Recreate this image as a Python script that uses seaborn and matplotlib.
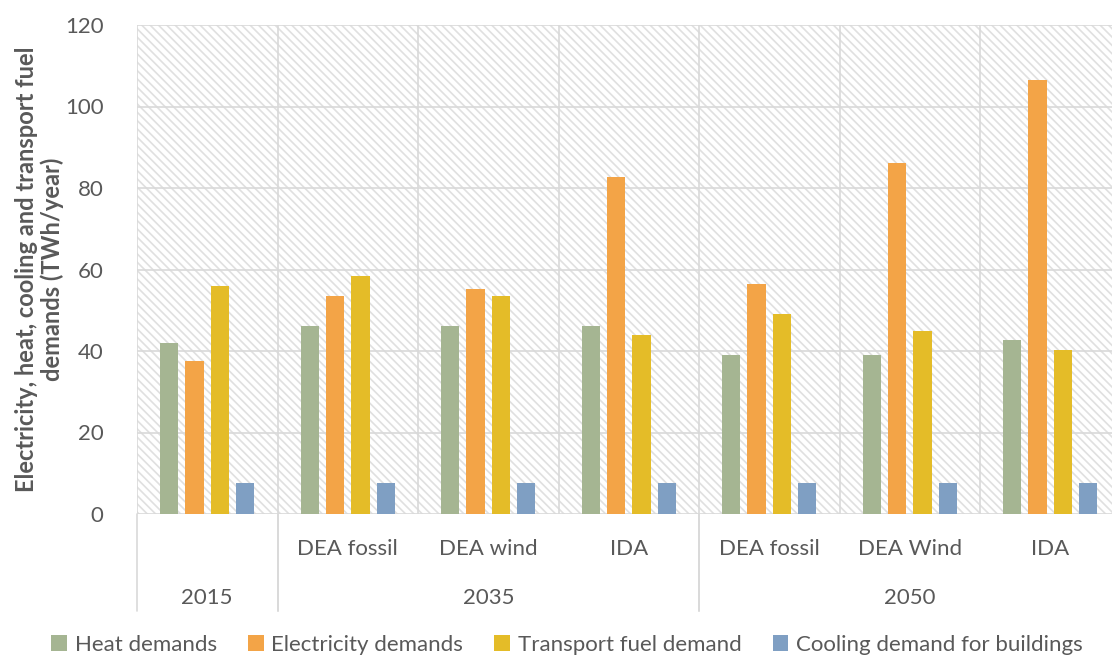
import matplotlib
matplotlib.use("Agg")
import matplotlib.pyplot as plt
import matplotlib.transforms as mtransforms
from matplotlib.patches import Rectangle
import seaborn as sns
import pandas as pd

# ---- data ----
years = ["2015", "2035", "2035", "2035", "2050", "2050", "2050"]
scenarios = ["", "DEA fossil", "DEA wind", "IDA", "DEA fossil", "DEA Wind", "IDA"]
heat = [41.9, 46.1, 46.1, 46.1, 38.9, 38.9, 42.7]
electricity = [37.6, 53.4, 55.1, 82.7, 56.4, 86.2, 106.6]
transport = [55.9, 58.5, 53.4, 44.0, 49.0, 44.8, 40.2]
cooling = [7.7, 7.7, 7.7, 7.7, 7.7, 7.7, 7.7]
series_names = ["Heat demands", "Electricity demands", "Transport fuel demand",
                "Cooling demand for buildings"]
colors = ["#A5B592", "#F3A447", "#E4BC28", "#7F9FC3"]
yticks = [0, 20, 40, 60, 80, 100, 120]

sns.set_theme(style="white")
plt.rcParams['font.family'] = ['Lato', 'DejaVu Sans']
plt.rcParams['hatch.linewidth'] = 1.2
TXT = "#595959"
GRID = "#d9d9d9"
FS = 16

cat_keys = [f"{y}|{s}" for y, s in zip(years, scenarios)]
rows = []
for name, vals in zip(series_names, [heat, electricity, transport, cooling]):
    for k, v in zip(cat_keys, vals):
        rows.append({"cat": k, "series": name, "value": v})
df = pd.DataFrame(rows)

fig = plt.figure(figsize=(11.12, 6.58), dpi=100)
L, R, T, B = 137, 1120.5, 25, 514
W, H = 1112, 658
ax = fig.add_axes([L / W, 1 - B / H, (R - L) / W, (B - T) / H])

# hatched background
bg = Rectangle((0, 0), 1, 1, transform=ax.transAxes, facecolor="white",
               edgecolor="#e0e0e0", linewidth=0, hatch="\\\\\\\\", zorder=0)
ax.add_patch(bg)

sns.barplot(data=df, x="cat", y="value", hue="series", order=cat_keys,
            hue_order=series_names, palette=colors, width=0.725, gap=0.29,
            saturation=1, ax=ax, zorder=3, legend=True, edgecolor="none",
            linewidth=0)

ax.set_xlim(-0.5, len(cat_keys) - 0.5)
ax.set_ylim(0, 120)
ax.set_yticks(yticks)
ax.set_yticklabels([str(t) for t in yticks], color=TXT, fontsize=FS)
ax.tick_params(axis="y", length=0, pad=24)
ax.tick_params(axis="x", length=0, pad=18)
for s in ax.spines.values():
    s.set_visible(False)
for t in yticks:
    ax.axhline(t, color=GRID, lw=1.2, zorder=1)
for k in range(len(cat_keys) + 1):
    ax.axvline(k - 0.5, color=GRID, lw=1.2, zorder=1)

ax.set_xticks(range(len(cat_keys)))
ax.set_xticklabels(scenarios, color=TXT, fontsize=FS)
ax.set_xlabel("")
ax.set_ylabel("Electricity, heat, cooling and transport fuel\ndemands (TWh/year)",
              fontsize=17, fontweight="bold", color=TXT, labelpad=0.5,
              linespacing=1.15)

# year group labels and separators
trans = mtransforms.blended_transform_factory(ax.transData, ax.transAxes)
groups = []
for i, y in enumerate(years):
    if not groups or groups[-1][0] != y:
        groups.append([y, i, i])
    else:
        groups[-1][2] = i
ylow = -(611 - B) / (B - T)
for y, a, b in groups:
    ax.text((a + b) / 2, -(598 - B) / (B - T), y, transform=trans, ha="center",
            va="center", color=TXT, fontsize=FS)
    for xb in (a - 0.5, b + 0.5):
        ax.plot([xb, xb], [0, ylow], transform=trans, color=GRID, lw=1.2,
                clip_on=False, zorder=1)

leg = ax.get_legend()
handles, labels = ax.get_legend_handles_labels()
leg.remove()
fig.legend(handles, labels, loc="center", bbox_to_anchor=(567 / W, 13 / H),
           ncol=4, frameon=False, fontsize=FS, handlelength=0.7,
           handleheight=0.7, handletextpad=0.35, columnspacing=1.4,
           labelcolor=TXT)

fig.savefig("out.png", dpi=100)
